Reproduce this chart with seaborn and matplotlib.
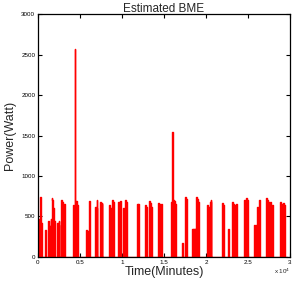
import matplotlib
matplotlib.use("Agg")
import matplotlib.pyplot as plt
import seaborn as sns
import numpy as np
import pandas as pd

# Bursts of consumption: start / end (minutes) and
# the power levels (W) seen inside each burst, left to right
burst_start = [36, 833, 1226, 1630, 2225, 2797, 3130, 4200, 5712, 6069,
               6783, 7378, 8449, 9520, 10151, 11781, 12733, 13209, 14280, 15827,
               17136, 17493, 18326, 18802, 20111, 21896, 22610, 23086, 24514, 25704,
               26061, 27132, 27906, 28798, 29155]
burst_end = [476, 988, 1607, 1999, 2559, 2940, 3273, 4796, 5914, 6248,
             7057, 7652, 9044, 9877, 10555, 12055, 12971, 13566, 14756, 16422,
             17255, 17731, 18802, 19219, 20647, 22134, 22729, 23681, 24990, 26061,
             26418, 27727, 28025, 29036, 29393]
burst_levels = [
    [430, 470, 740, 730, 420],
    [333, 320],
    [440, 380, 360, 470],
    [730, 700, 600, 440],
    [420, 400, 450],
    [700, 680],
    [650, 630],
    [640, 620, 2570, 660, 680, 690, 640, 620],
    [333, 320],
    [690, 660],
    [620, 600, 700],
    [680, 650, 670],
    [640, 600, 350, 340, 700, 680],
    [680, 650, 690],
    [600, 580, 700, 680],
    [660, 640, 650],
    [640, 620],
    [690, 670, 620],
    [670, 650, 640, 660],
    [680, 1540, 720, 700, 690, 650],
    [173],
    [745, 720],
    [346, 340, 350, 346],
    [740, 720, 680, 660],
    [640, 620, 600, 680, 700],
    [665, 640],
    [346],
    [680, 660, 640, 620, 650],
    [700, 680, 730, 700],
    [395, 380, 390],
    [620, 600, 700],
    [730, 700, 680, 660, 680],
    [640],
    [680, 650],
    [670, 640],
]
series_end = 29600

# build the series (each sub-segment rises from and returns to zero)
t, p = [0.0], [0.0]
for s, e, levels in zip(burst_start, burst_end, burst_levels):
    edges = np.linspace(s, e, len(levels) + 1)
    for k, v in enumerate(levels):
        a, b = edges[k], edges[k + 1]
        t += [a, a, b, b]
        p += [0, v, v, 0]
t.append(series_end)
p.append(0.0)
df = pd.DataFrame({"Time": t, "Power": p})

sns.set_style("white")
plt.rcParams["font.family"] = ["Liberation Sans", "DejaVu Sans"]

fig = plt.figure(figsize=(2.95, 2.90), dpi=100)
ax = fig.add_axes([0.1288, 0.1138, 0.8542, 0.8379])
sns.lineplot(data=df, x="Time", y="Power", ax=ax, color="#ff0000",
             linewidth=1.0, sort=False, estimator=None)

ax.set_xlim(0, 30000)
ax.set_ylim(0, 3000)
xt = [0, 5000, 10000, 15000, 20000, 25000, 30000]
ax.set_xticks(xt)
ax.set_xticklabels(["0", "0.5", "1", "1.5", "2", "2.5", "3"])
yt = [0, 500, 1000, 1500, 2000, 2500, 3000]
ax.set_yticks(yt)
ax.set_yticklabels([str(v) for v in yt])
ax.tick_params(direction="in", length=3, width=0.8, labelsize=4.5,
               top=True, right=True, bottom=True, left=True, pad=2,
               colors="black")
for sp in ax.spines.values():
    sp.set_color("black")
    sp.set_linewidth(0.9)

ax.set_xlabel("Time(Minutes)", fontsize=9, labelpad=1)
ax.set_ylabel("Power(Watt)", fontsize=9, labelpad=4)
ax.set_title("Estimated BME", fontsize=8.5, pad=1.5)
ax.text(1.0, -0.04, "x 10$^4$", transform=ax.transAxes, fontsize=4.5,
        ha="right", va="top")

fig.savefig("out.png", dpi=100)
